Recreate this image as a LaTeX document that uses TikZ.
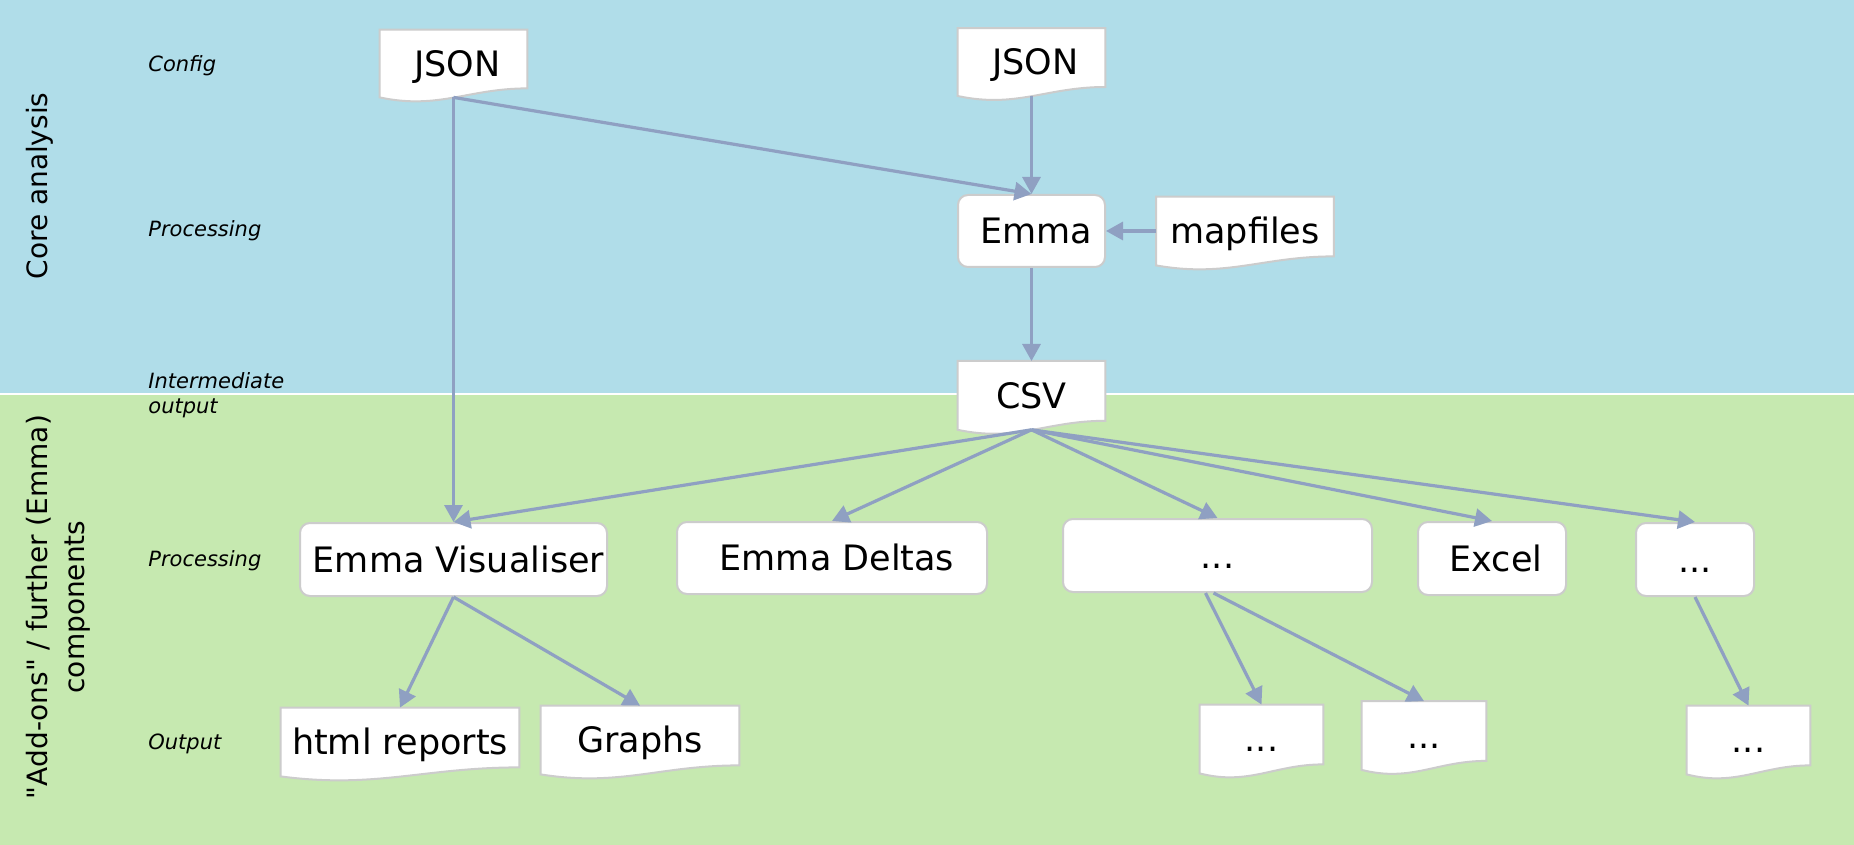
\documentclass[tikz,border=0pt]{standalone}
\usepackage{fontspec}
\setmainfont{DejaVu Sans}
\usepackage{tikz}
\usetikzlibrary{arrows.meta,positioning,calc}
\definecolor{colorCore}{RGB}{176,221,233}
\definecolor{colorAddon}{RGB}{198,233,176}
\definecolor{colorFlow}{RGB}{143,160,194}
\definecolor{colorRim}{RGB}{204,204,204}
\tikzstyle{lvl}=[inner sep=0pt, align=left, font=\fontsize{10.5}{12.5}\selectfont\itshape]
\tikzstyle{grp}=[rotate=90, align=center, font=\fontsize{14}{18.5}\selectfont]
\tikzstyle{proc}=[draw=colorRim, line width=1pt, fill=white, rounded corners=5pt, inner sep=0pt, text height=12.8pt, text depth=0pt]
\tikzstyle{doc}=[inner sep=0pt, text height=12.8pt, text depth=0pt]
\tikzstyle{flow}=[draw=colorFlow, line width=1.6pt, -{Triangle[length=8.5pt,width=9pt]}]
\pgfdeclarelayer{back}
\pgfdeclarelayer{paper}
\pgfsetlayers{back,paper,main}
\newcommand{\wave}[1]{%
  \begin{pgfonlayer}{paper}
  \draw[draw=colorRim, line width=1pt, fill=white] (#1.north west) -- (#1.north east) -- ($(#1.south east)+(0,-9)$)
    .. controls ($(#1.south east)!0.4!(#1.south west)+(0,-9)$) and ($(#1.south east)!0.6!(#1.south west)+(0,12.6)$) .. (#1.south west) -- cycle;
  \end{pgfonlayer}}
\newcommand{\qt}{\textquotedbl}

\begin{document}
\begin{tikzpicture}[x=0.5pt,y=-0.5pt,font=\fontsize{17.5}{21}\selectfont]
\useasboundingbox (0,0) rectangle (1854,845);

% bands
\begin{pgfonlayer}{back}
\fill[white] (0,0) rectangle (1854,845);
\fill[colorCore] (0,0) rectangle (1854,393.5);
\fill[colorAddon] (0,395.5) rectangle (1854,845);
\end{pgfonlayer}

\node[grp] (grpCore) at (40,186) {Core analysis};
\node[grp] (grpAddon) at (58,607) {\qt Add-ons\qt{} / further (Emma)\\components};

% levels
\node[lvl, anchor=base west] (lvlConfig) at (148,72) {Config};
\node[lvl, anchor=base west] (lvlProc) at (148,237) {Processing};
\node[lvl, anchor=north west] (lvlInter) at (148,372) {Intermediate\\output};
\node[lvl, anchor=base west] (lvlProcAddon) at (148,566) {Processing};
\node[lvl, anchor=base west] (lvlOutput) at (148,749) {Output};

% core analysis
\node[proc, minimum width=73.5pt, minimum height=36pt] (emma) at (1031.5,231) {\hspace{5pt}Emma};
\node[doc, minimum width=73.5pt, minimum height=33.5pt, above=49pt of emma] (jsonB) {\hspace{4pt}JSON};
\node[doc, minimum width=73.5pt, minimum height=33.5pt] (jsonA) at (453.5,63.5) {\hspace{4pt}JSON};
\node[doc, minimum width=88.5pt, minimum height=34pt, right=25pt of emma] (mapfiles) {mapfiles};
\node[doc, minimum width=73.5pt, minimum height=34pt, below=46.5pt of emma] (csv) {CSV};

% add-ons
\node[proc, minimum width=153.5pt, minimum height=36.5pt] (visualiser) at (453.5,559.5) {\hspace{5pt}Emma Visualiser};
\node[proc, minimum width=155pt, minimum height=36pt] (deltas) at (832,558) {\hspace{5pt}Emma Deltas};
\node[proc, minimum width=154.5pt, minimum height=36.5pt] (otherProc) at (1217.5,555.5) {...};
\node[proc, minimum width=74pt, minimum height=36.5pt] (excel) at (1492,558.5) {\hspace{4pt}Excel};
\node[proc, minimum width=59pt, minimum height=36.5pt] (moreProc) at (1695,559.5) {...};

% outputs
\node[doc, minimum width=119pt, minimum height=34pt] (htmlReports) at (400,742) {html reports};
\node[doc, minimum width=99pt, minimum height=34pt] (graphs) at (640,740) {Graphs};
\node[doc, minimum width=61.5pt, minimum height=34pt] (outA) at (1261.5,739) {...};
\node[doc, minimum width=62pt, minimum height=34pt] (outB) at (1424,735.5) {...};
\node[doc, minimum width=61.5pt, minimum height=34pt] (outC) at (1748.5,740) {...};

\wave{jsonA}
\wave{jsonB}
\wave{mapfiles}
\wave{csv}
\wave{htmlReports}
\wave{graphs}
\wave{outA}
\wave{outB}
\wave{outC}

\draw[flow] (jsonA.south) -- (visualiser.north);
\draw[flow] (jsonA.south) -- (emma.north);
\draw[flow] (jsonB.south) -- (emma.north);
\draw[flow] (mapfiles.west |- emma.east) -- (emma.east);
\draw[flow] (emma.south) -- (csv.north);
\draw[flow] (csv.south) -- (visualiser.north);
\draw[flow] (csv.south) -- (deltas.north);
\draw[flow] (csv.south) -- (otherProc.north);
\draw[flow] (csv.south) -- (excel.north);
\draw[flow] (csv.south) -- (moreProc.north);
\draw[flow] (visualiser.south) -- (htmlReports.north);
\draw[flow] (visualiser.south) -- (graphs.north);
\draw[flow] ([xshift=-6pt]otherProc.south) -- (outA.north);
\draw[flow] ([xshift=-2pt]otherProc.south) -- (outB.north);
\draw[flow] (moreProc.south) -- (outC.north);

\end{tikzpicture}
\end{document}
